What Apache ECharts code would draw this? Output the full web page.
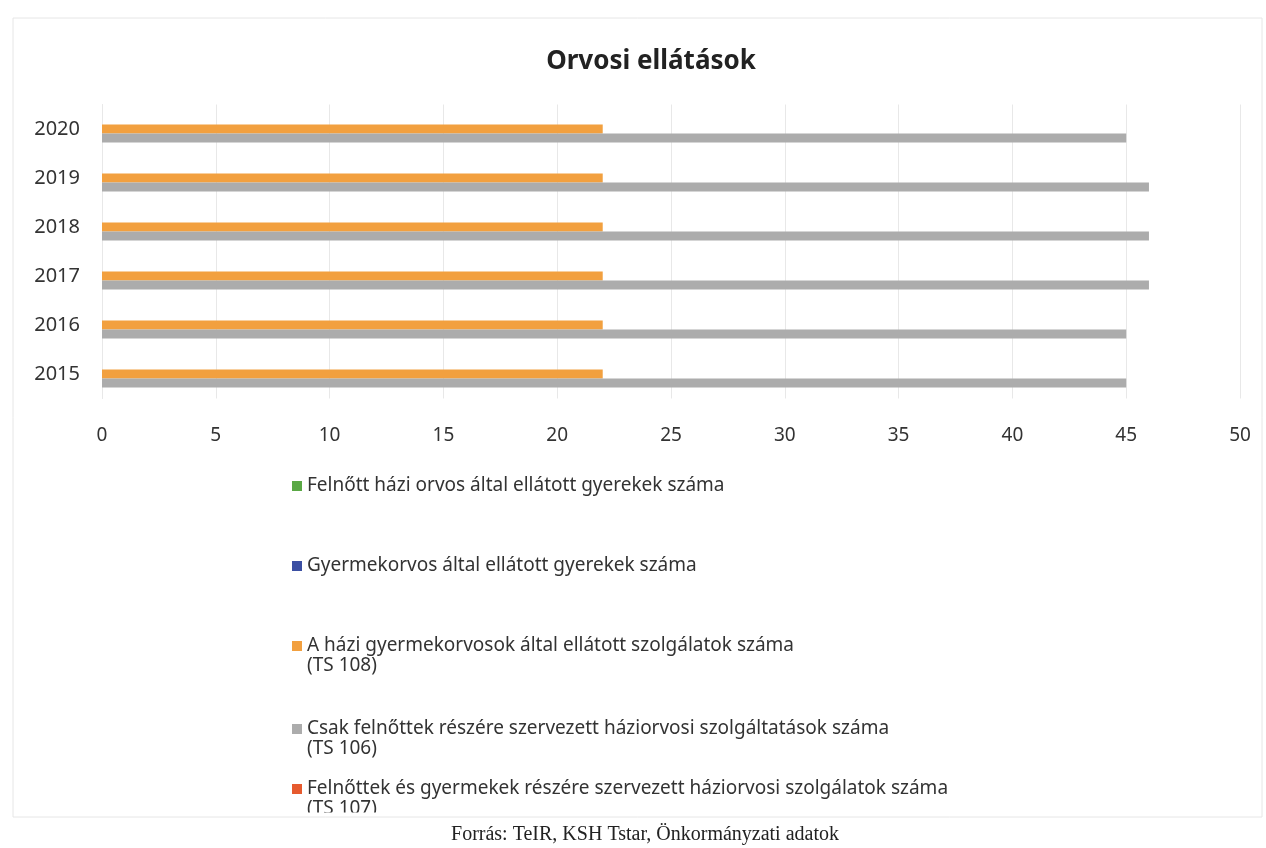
<!DOCTYPE html>
<html>
<head>
<meta charset="utf-8">
<title>Orvosi ellátások</title>
<script src="https://cdn.jsdelivr.net/npm/echarts@6/dist/echarts.min.js"></script>
<style>
  html, body { margin: 0; padding: 0; background: #fff; }
  #chart { width: 1266px; height: 848px; }
</style>
</head>
<body>
<div id="chart"></div>
<script>
// évek – alulról felfelé
var years = ['2015', '2016', '2017', '2018', '2019', '2020'];

// sorozatok neve (jelmagyarázat sorrendjében)
var nameFelnottHazi = 'Felnőtt házi orvos által ellátott gyerekek száma';
var nameGyermekorvos = 'Gyermekorvos által ellátott gyerekek száma';
var nameTS108 = 'A házi gyermekorvosok által ellátott szolgálatok száma\n(TS 108)';
var nameTS106 = 'Csak felnőttek részére szervezett háziorvosi szolgáltatások száma\n(TS 106)';
var nameTS107 = 'Felnőttek és gyermekek részére szervezett háziorvosi szolgálatok száma\n(TS 107)';

// értékek
var felnottHazi = [null, null, null, null, null, null];
var gyermekorvos = [null, null, null, null, null, null];
var ts108 = [22, 22, 22, 22, 22, 22];
var ts106 = [45, 45, 46, 46, 46, 45];
var ts107 = [null, null, null, null, null, null];

var chart = echarts.init(document.getElementById('chart'));

// egy jelmagyarázat-elem; a kétsoros feliratnál üres első sor, hogy az ikon az első sorhoz igazodjon
var LH = 20;
function oneLegend(name, lineCenter, twoLines) {
  return {
    data: [name],
    left: 292,
    top: twoLines ? lineCenter - 1.5 * LH : lineCenter - LH / 2,
    padding: 0,
    icon: 'rect',
    itemWidth: 10,
    itemHeight: 10,
    itemGap: 0,
    selectedMode: false,
    formatter: twoLines ? function (n) { return '\n' + n; } : '{name}',
    textStyle: { fontFamily: 'Noto Sans', fontSize: 19, color: '#333', lineHeight: LH }
  };
}

chart.setOption({
  animation: false,
  title: {
    text: 'Orvosi ellátások',
    left: 646,
    textAlign: 'center',
    top: 44,
    textStyle: { fontFamily: 'Noto Sans', fontWeight: 'bold', fontSize: 26, color: '#222' }
  },
  grid: { left: 102, right: 26, top: 104.5, bottom: 449.5 },
  xAxis: {
    type: 'value',
    min: 0,
    max: 50,
    interval: 5,
    axisLine: { show: false },
    axisTick: { show: false },
    axisLabel: { margin: 28, fontFamily: 'Noto Sans', fontSize: 19, color: '#333' },
    splitLine: { lineStyle: { color: '#e8e8e8' } }
  },
  yAxis: {
    type: 'category',
    data: years,
    axisLine: { show: true, lineStyle: { color: '#e8e8e8' } },
    axisTick: { show: false },
    axisLabel: { margin: 22, fontFamily: 'Noto Sans', fontSize: 20, color: '#333' }
  },
  legend: [
    oneLegend(nameFelnottHazi, 486, false),
    oneLegend(nameGyermekorvos, 566, false),
    oneLegend(nameTS108, 646, true),
    oneLegend(nameTS106, 729, true),
    oneLegend(nameTS107, 789, true)
  ],
  series: [
    { name: nameFelnottHazi, type: 'bar', data: felnottHazi, barWidth: 9, barGap: '0%', itemStyle: { color: '#5aa845' } },
    { name: nameGyermekorvos, type: 'bar', data: gyermekorvos, barWidth: 9, barGap: '0%', itemStyle: { color: '#3b4fa3' } },
    { name: nameTS108, type: 'bar', data: ts108, barWidth: 9, barGap: '0%', itemStyle: { color: '#f2a03f' } },
    { name: nameTS106, type: 'bar', data: ts106, barWidth: 9, barGap: '0%', itemStyle: { color: '#acacac' } },
    { name: nameTS107, type: 'bar', data: ts107, barWidth: 9, barGap: '0%', itemStyle: { color: '#e65a2e' } }
  ],
  graphic: [
    // alul levágott terület
    { type: 'rect', z: 100, silent: true, shape: { x: 0, y: 812.5, width: 1266, height: 36 },
      style: { fill: '#fff' } },
    // a diagram kerete
    { type: 'rect', z: 101, silent: true, shape: { x: 13, y: 18, width: 1249, height: 799 },
      style: { fill: 'none', stroke: '#e6e6e6', lineWidth: 1 } },
    { type: 'text', z: 101, silent: true, x: 645, y: 835,
      style: { text: 'Forrás: TeIR, KSH Tstar, Önkormányzati adatok', align: 'center', verticalAlign: 'middle',
        fontFamily: 'Liberation Serif', fontSize: 20, fill: '#222' } }
  ]
});
</script>
</body>
</html>
